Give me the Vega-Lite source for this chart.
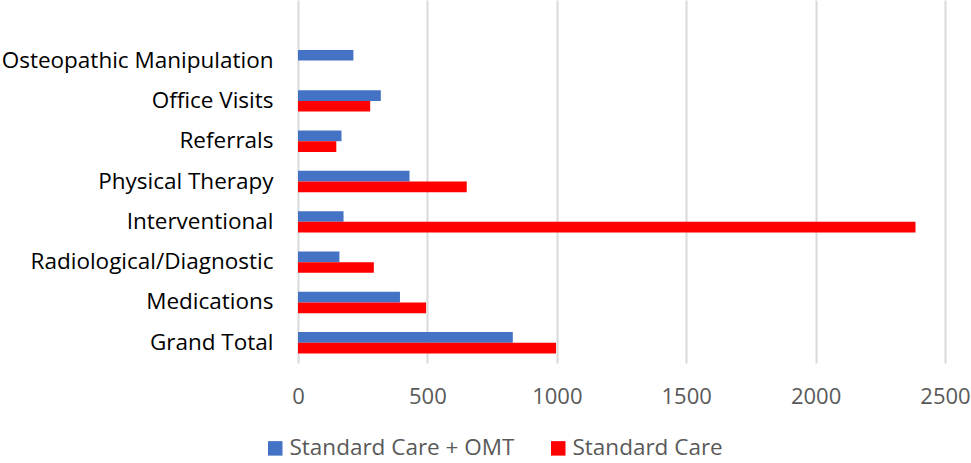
{
  "$schema": "https://vega.github.io/schema/vega-lite/v6.json",
  "autosize": "none",
  "padding": {"left": 298, "top": 0, "right": 26, "bottom": 100},
  "width": 647,
  "height": 363,
  "background": "white",
  "config": {"view": {"stroke": null}, "font": "Open Sans"},
  "data": {
    "values": [
      {"category": "Osteopathic Manipulation", "series": "Standard Care + OMT", "value": 214},
      {"category": "Office Visits", "series": "Standard Care + OMT", "value": 320},
      {"category": "Office Visits", "series": "Standard Care", "value": 279},
      {"category": "Referrals", "series": "Standard Care + OMT", "value": 168},
      {"category": "Referrals", "series": "Standard Care", "value": 148},
      {"category": "Physical Therapy", "series": "Standard Care + OMT", "value": 431},
      {"category": "Physical Therapy", "series": "Standard Care", "value": 652},
      {"category": "Interventional", "series": "Standard Care + OMT", "value": 176},
      {"category": "Interventional", "series": "Standard Care", "value": 2386},
      {"category": "Radiological/Diagnostic", "series": "Standard Care + OMT", "value": 160},
      {"category": "Radiological/Diagnostic", "series": "Standard Care", "value": 293},
      {"category": "Medications", "series": "Standard Care + OMT", "value": 394},
      {"category": "Medications", "series": "Standard Care", "value": 495},
      {"category": "Grand Total", "series": "Standard Care + OMT", "value": 830},
      {"category": "Grand Total", "series": "Standard Care", "value": 997}
    ]
  },
  "mark": {"type": "bar"},
  "encoding": {
    "y": {
      "field": "category",
      "type": "nominal",
      "sort": ["Osteopathic Manipulation", "Office Visits", "Referrals", "Physical Therapy", "Interventional", "Radiological/Diagnostic", "Medications", "Grand Total"],
      "scale": {"paddingInner": 0.47, "paddingOuter": 0.737, "align": 0.84},
      "axis": {"title": null, "ticks": false, "domain": false, "labelFontSize": 22.5, "labelColor": "#000000", "labelPadding": 25, "labelLimit": 400, "labelBaseline": "middle"}
    },
    "yOffset": {
      "field": "series",
      "type": "nominal",
      "sort": ["Standard Care + OMT", "Standard Care"],
      "scale": {"paddingInner": 0, "paddingOuter": 0}
    },
    "x": {
      "field": "value",
      "type": "quantitative",
      "scale": {"domain": [0, 2500], "nice": false},
      "axis": {"title": null, "values": [0, 500, 1000, 1500, 2000, 2500], "format": "d", "ticks": false, "domain": false, "grid": true, "gridColor": "#d9d9d9", "gridWidth": 2, "labelFontSize": 22, "labelColor": "#595959", "labelPadding": 23, "labelFlush": false}
    },
    "color": {
      "field": "series",
      "type": "nominal",
      "sort": ["Standard Care + OMT", "Standard Care"],
      "scale": {"domain": ["Standard Care + OMT", "Standard Care"], "range": ["#4472C4", "#FF0000"]},
      "legend": {"title": null, "orient": "none", "direction": "horizontal", "legendX": -34, "legendY": 437, "symbolType": "square", "symbolSize": 210, "symbolStrokeWidth": 0, "labelFontSize": 22.5, "labelColor": "#595959", "columnPadding": 32, "labelOffset": 3, "labelLimit": 400}
    }
  }
}
